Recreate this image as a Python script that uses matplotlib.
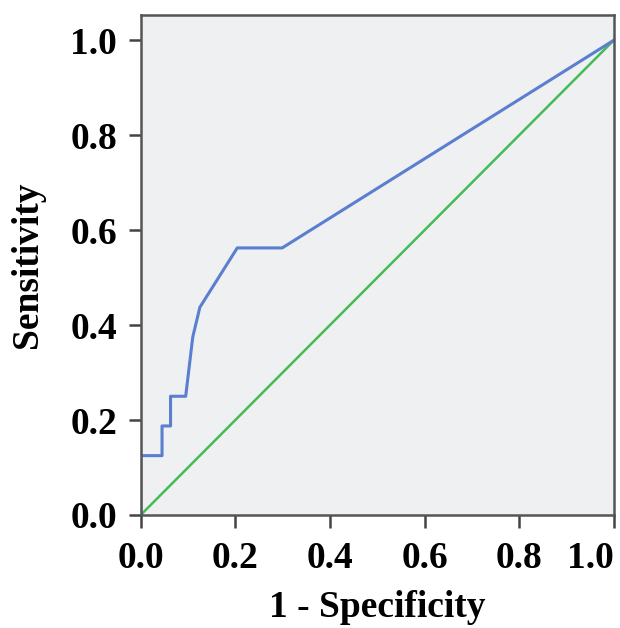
import matplotlib
matplotlib.use("Agg")
import matplotlib.pyplot as plt

# ROC curve points
fpr = [0.0, 0.0, 0.045, 0.045, 0.063, 0.063, 0.095, 0.11, 0.125, 0.204, 0.299, 1.0]
tpr = [0.0, 0.125, 0.125, 0.1875, 0.1875, 0.25, 0.25, 0.375, 0.4375, 0.5625, 0.5625, 1.0]
ref_line = [0.0, 1.0]
ticks = [0.0, 0.2, 0.4, 0.6, 0.8, 1.0]
tick_labels = ["0.0", "0.2", "0.4", "0.6", "0.8", "1.0"]

plt.rcParams['font.family'] = ['Liberation Serif', 'DejaVu Serif']
plt.rcParams['font.weight'] = 'bold'

fig = plt.figure(figsize=(6.2, 6.28), dpi=100)
ax = fig.add_axes([0.227, 0.180, 0.763, 0.796])
ax.set_facecolor("#eef0f1")

ax.plot(ref_line, ref_line, color="#45bb55", linewidth=1.8)
ax.plot(fpr, tpr, color="#5a7fd0", linewidth=2.2)

ax.set_xlim(0, 1.0)
ax.set_ylim(0, 1.053)
ax.set_xticks(ticks)
ax.set_xticklabels(tick_labels)
ax.set_yticks(ticks)
ax.set_yticklabels(tick_labels)
ax.tick_params(axis='both', labelsize=27, length=9, width=1.8, color="#444444", pad=8)
ax.tick_params(axis='x', pad=10)
# last x label would run off the right edge, keep it inside
ax.get_xticklabels()[-1].set_horizontalalignment('right')

for s in ax.spines.values():
    s.set_color("#555555")
    s.set_linewidth(1.8)
    s.set_zorder(5)  # spine covers the curve segment on x=0

ax.set_xlabel("1 - Specificity", fontsize=27, fontweight='bold', labelpad=10)
ax.set_ylabel("Sensitivity", fontsize=27, fontweight='bold', labelpad=18)

fig.savefig("out.png", dpi=100)
